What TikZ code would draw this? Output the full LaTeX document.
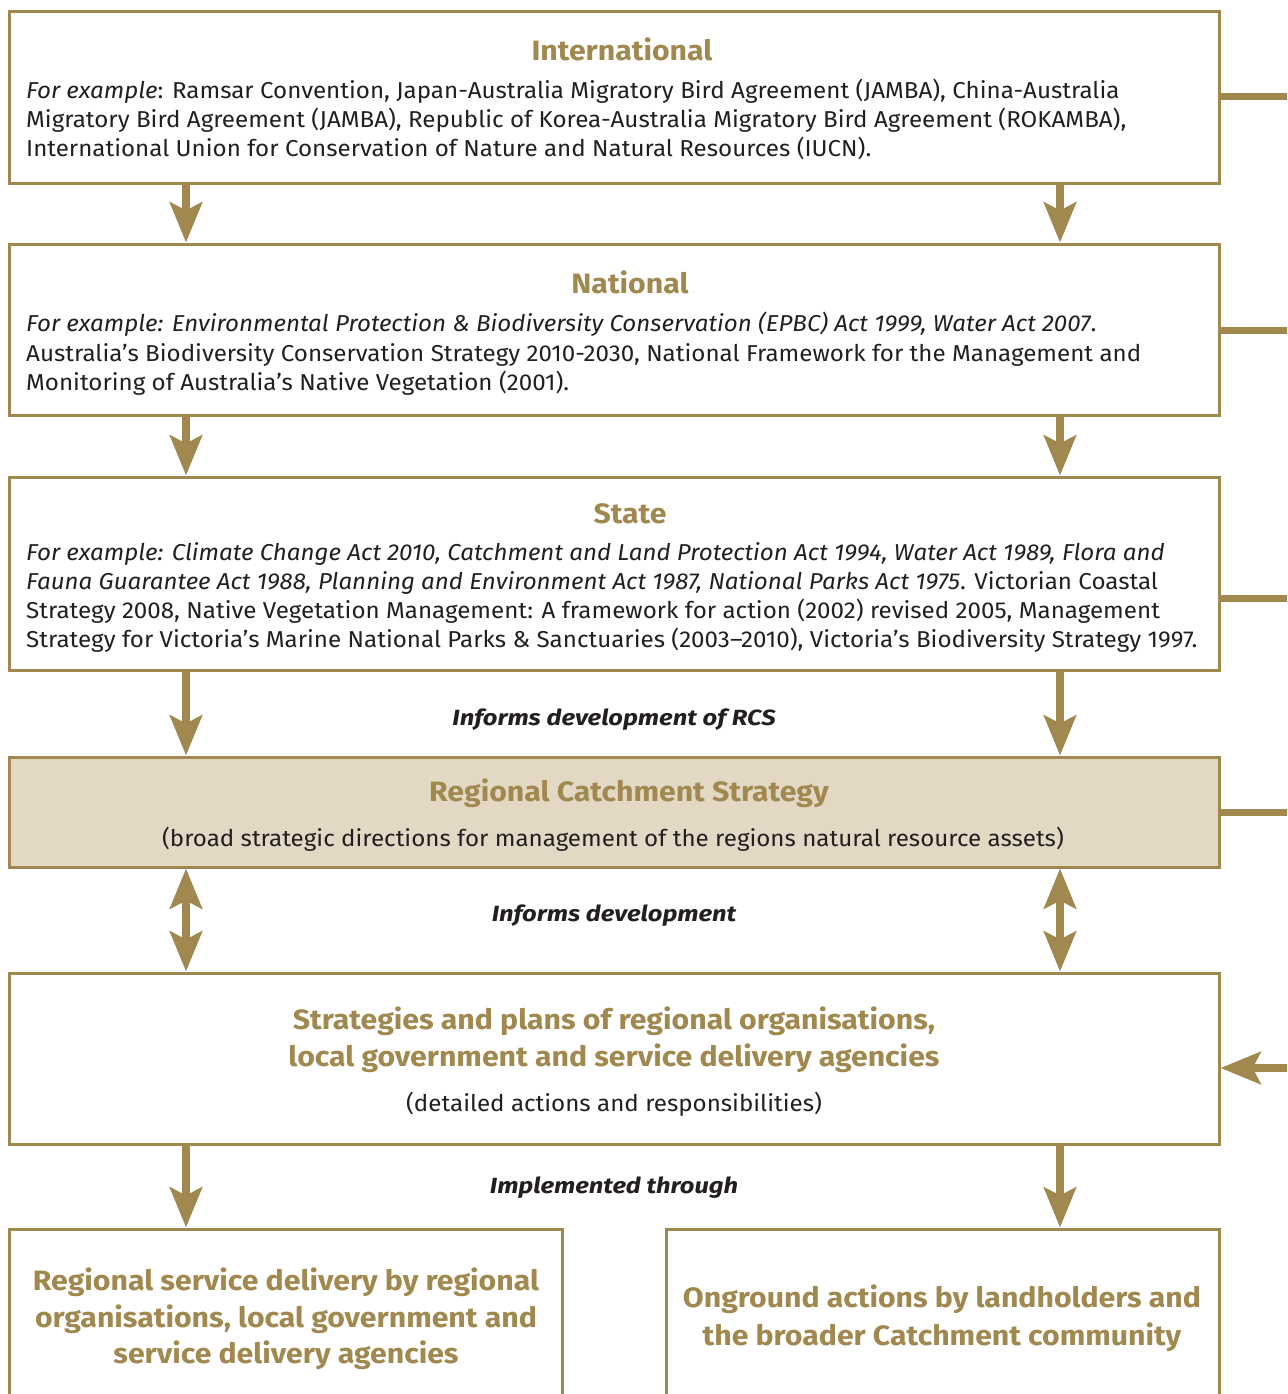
\documentclass[tikz,border=0pt]{standalone}
\usepackage{fontspec}
\setmainfont[FakeStretch=1.05]{Fira Sans}
\newfontfamily\ttlf[FakeStretch=1.08]{Fira Sans}
\newfontfamily\labf[FakeStretch=1.16]{Fira Sans}
\usetikzlibrary{arrows.meta}
\definecolor{gold}{RGB}{161,136,78}
\definecolor{pale}{RGB}{226,216,196}
\definecolor{ink}{RGB}{35,31,32}
\begin{document}
\begin{tikzpicture}[x=1pt,y=-1pt,
 box/.style={draw=gold, line width=3pt, fill=white, inner sep=0pt},
 ttl/.style={text=gold, font=\ttlf\fontsize{28}{34}\selectfont\bfseries, anchor=base, inner sep=0pt},
 body/.style={text=ink, font=\fontsize{23}{29}\selectfont, anchor=base west, inner sep=0pt},
 sub/.style={text=ink, font=\fontsize{23}{29}\selectfont, anchor=base, inner sep=0pt},
 lab/.style={text=ink, font=\labf\fontsize{22}{26}\selectfont\bfseries\itshape, anchor=base, inner sep=0pt},
 arr/.style={draw=gold, line width=8pt, -{Stealth[length=40pt,width=32pt,inset=8pt]}},
 darr/.style={draw=gold, line width=8pt, {Stealth[length=40pt,width=32pt,inset=8pt]}-{Stealth[length=40pt,width=32pt,inset=8pt]}},
 stub/.style={draw=gold, line width=7pt}]
\clip (0,0) rectangle (1287,1394);
\fill[white] (0,0) rectangle (1287,1394);
\coordinate (L) at (186,0);
\coordinate (R) at (1060,0);
% boxes
\node[box, minimum width=1210pt, minimum height=171pt] (intl) at (614,97.5) {};
\node[box, minimum width=1210pt, minimum height=171pt] (natl) at (614,329.5) {};
\node[box, minimum width=1210pt, minimum height=193pt] (state) at (614,573.5) {};
\node[box, fill=pale, minimum width=1210pt, minimum height=110pt] (rcs) at (614,812) {};
\node[box, minimum width=1210pt, minimum height=171pt] (strat) at (614,1058.5) {};
\node[box, minimum width=553pt, minimum height=220pt] (bl) at (285.5,1339) {};
\node[box, minimum width=553pt, minimum height=220pt] (br) at (942.5,1339) {};
% International
\node[ttl] (t1) at (622,61) {International};
\node[body] (i1) at (26,99) {\itshape For example\upshape: Ramsar Convention, Japan-Australia Migratory Bird Agreement (JAMBA), China-Australia};
\node[body] (i2) at (26,128) {Migratory Bird Agreement (JAMBA), Republic of Korea-Australia Migratory Bird Agreement (ROKAMBA),};
\node[body] (i3) at (26,157) {International Union for Conservation of Nature and Natural Resources (IUCN).};
% National
\node[ttl] (t2) at (630,293) {National};
\node[body] (n1) at (26,331) {\itshape For example: Environmental Protection \& Biodiversity Conservation (EPBC) Act 1999, Water Act 2007\upshape.};
\node[body] (n2) at (26,361) {Australia’s Biodiversity Conservation Strategy 2010-2030, National Framework for the Management and};
\node[body] (n3) at (26,390) {Monitoring of Australia’s Native Vegetation (2001).};
% State
\node[ttl] (t3) at (630,523) {State};
\node[body] (s1) at (26,560) {\itshape For example: Climate Change Act 2010, Catchment and Land Protection Act 1994, Water Act 1989, Flora and};
\node[body] (s2) at (26,589) {\itshape Fauna Guarantee Act 1988, Planning and Environment Act 1987, National Parks Act 1975\upshape. Victorian Coastal};
\node[body] (s3) at (26,618) {Strategy 2008, Native Vegetation Management: A framework for action (2002) revised 2005, Management};
\node[body] (s4) at (26,647) {Strategy for Victoria’s Marine National Parks \& Sanctuaries (2003–2010), Victoria’s Biodiversity Strategy 1997.};
% RCS
\node[ttl] (t4) at (629,801) {Regional Catchment Strategy};
\node[sub] (r1) at (613,846) {(broad strategic directions for management of the regions natural resource assets)};
% Strategies
\node[ttl] (t5a) at (614,1029) {Strategies and plans of regional organisations,};
\node[ttl] (t5b) at (614,1066) {local government and service delivery agencies};
\node[sub] (p1) at (614,1111) {(detailed actions and responsibilities)};
% bottom
\node[ttl] (b1) at (286,1290) {Regional service delivery by regional};
\node[ttl] (b2) at (286,1327) {organisations, local government and};
\node[ttl] (b3) at (286,1363) {service delivery agencies};
\node[ttl] (c1) at (942,1307) {Onground actions by landholders and};
\node[ttl] (c2) at (942,1345) {the broader Catchment community};
% labels
\node[lab] (l1) at (614,725) {Informs development of RCS};
\node[lab] (l2) at (614,921) {Informs development};
\node[lab] (l3) at (614,1193) {Implemented through};
% arrows
\draw[arr] (intl.south -| L) -- (natl.north -| L);
\draw[arr] (intl.south -| R) -- (natl.north -| R);
\draw[arr] (natl.south -| L) -- (state.north -| L);
\draw[arr] (natl.south -| R) -- (state.north -| R);
\draw[arr] (state.south -| L) -- (rcs.north -| L);
\draw[arr] (state.south -| R) -- (rcs.north -| R);
\draw[darr] (rcs.south -| L) -- (strat.north -| L);
\draw[darr] (rcs.south -| R) -- (strat.north -| R);
\draw[arr] (strat.south -| L) -- (bl.north -| L);
\draw[arr] (strat.south -| R) -- (br.north -| R);
% right stubs
\coordinate (e1) at (1290,97);
\coordinate (e2) at (1290,330);
\coordinate (e3) at (1290,598);
\coordinate (e4) at (1290,812);
\coordinate (e5) at (1290,1068);
\draw[stub] (intl.east |- e1) -- (e1);
\draw[stub] (natl.east |- e2) -- (e2);
\draw[stub] (state.east |- e3) -- (e3);
\draw[stub] (rcs.east |- e4) -- (e4);
\draw[arr] (e5) -- (strat.east |- e5);
\end{tikzpicture}
\end{document}
